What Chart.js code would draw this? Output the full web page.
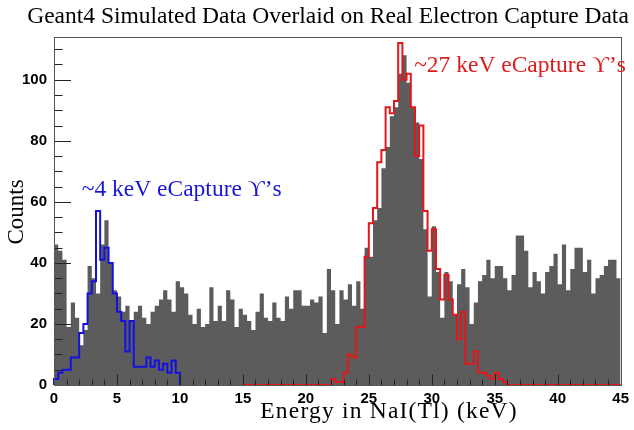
<!DOCTYPE html>
<html>
<head>
<meta charset="utf-8">
<script src="https://cdn.jsdelivr.net/npm/chart.js@4.4.1/dist/chart.umd.min.js"></script>
<style>
  html, body { margin: 0; padding: 0; background: #ffffff; }
  #wrap { width: 634px; height: 430px; }
</style>
</head>
<body>
<div id="wrap"><canvas id="spectrum-chart" width="634" height="430"></canvas></div>
<script>
// ============================================
// Data (counts per 1/3 keV bin)
// ============================================

const binWidth = 1 / 3;

// Real electron capture data, 0 - 45 keV
const realStart = 0;
const realCounts = [
  46, 44, 41, 19, 27, 22, 13, 18, 39, 35, 30, 46, 54, 40, 31, 29, 24, 26, 21, 24,
  26, 22, 20, 24, 26, 28, 31, 28, 24, 34, 32, 30, 23, 20, 25, 19, 20, 32, 21, 26,
  21, 31, 28, 19, 25, 23, 21, 18, 24, 30, 22, 21, 27, 22, 21, 29, 25, 31, 31, 26,
  26, 28, 27, 29, 17, 38, 31, 20, 31, 28, 33, 26, 34, 25, 45, 42, 54, 58, 71, 78,
  88, 91, 102, 108, 99, 91, 86, 74, 51, 29, 52, 37, 22, 37, 34, 23, 33, 38, 32, 20,
  27, 34, 36, 41, 35, 39, 39, 35, 31, 36, 49, 49, 44, 32, 37, 34, 30, 37, 39, 43,
  33, 46, 31, 38, 45, 45, 37, 41, 30, 35, 36, 39, 41, 41, 35
];

// Geant4 simulation, ~4 keV lines, 0 - 10 keV
const lowSimStart = 0;
const lowSimCounts = [
  2, 4, 5, 5, 9, 9, 17, 20, 30, 34, 57, 41, 45, 40, 30,
  24, 21, 11, 21, 6, 6, 6, 9, 6, 8, 5, 7, 4, 8, 4
];

// Geant4 simulation, ~27 keV lines, 15 - 45 keV
const highSimStart = 15;
const highSimCounts = [
  0, 0, 0, 0, 0, 0, 0, 0, 0, 0, 0, 0, 0, 0, 0, 0, 0, 0, 0, 0,
  0, 2, 1, 1, 4, 10, 9, 19, 19, 42, 53, 58, 73, 77, 91, 89, 93, 112, 100, 102,
  91, 75, 85, 57, 44, 51, 38, 28, 36, 28, 23, 15, 24, 7, 7, 11, 4, 4, 3, 2,
  4, 2, 1, 0, 0, 0, 0, 0, 0, 0, 0, 0, 0, 0, 0, 0, 0, 0, 0, 0,
  0, 0, 0, 0, 0, 0, 0, 0, 0, 0
];

// Axis ticks
const xTickValues = [0, 5, 10, 15, 20, 25, 30, 35, 40, 45];
const yTickValues = [0, 20, 40, 60, 80, 100];
const xMinorStep = 1;
const yMinorStep = 5;

// ============================================
// Helpers
// ============================================

// step outline of a histogram, closed down to zero at both ends
function histPoints(start, width, counts) {
  const pts = [{ x: start, y: 0 }];
  counts.forEach((c, i) => pts.push({ x: start + i * width, y: c }));
  const end = start + counts.length * width;
  pts.push({ x: end, y: counts[counts.length - 1] });
  pts.push({ x: end, y: 0 });
  return pts;
}

const serif = '"Liberation Serif", "Times New Roman", serif';
const sans = '"Liberation Sans", Arial, sans-serif';

// ============================================
// ROOT-style frame, inward ticks and texts
// ============================================

const rootFrame = {
  id: 'rootFrame',
  afterDatasetsDraw(chart) {
    const { ctx, chartArea: a, scales } = chart;
    const xs = scales.x, ys = scales.y;
    ctx.save();
    ctx.strokeStyle = '#222';
    ctx.lineWidth = 1;

    // x ticks, pointing up from the bottom axis
    ctx.beginPath();
    for (let v = xs.min; v <= xs.max + 1e-9; v += xMinorStep) {
      const px = Math.round(xs.getPixelForValue(v)) + 0.5;
      const len = xTickValues.includes(v) ? 10.5 : 5.5;
      ctx.moveTo(px, a.bottom);
      ctx.lineTo(px, a.bottom - len);
    }
    // y ticks, pointing right from the left axis
    for (let v = ys.min; v <= ys.max + 1e-9; v += yMinorStep) {
      const py = Math.round(ys.getPixelForValue(v)) + 0.5;
      const len = yTickValues.includes(v) ? 17 : 8.5;
      ctx.moveTo(a.left, py);
      ctx.lineTo(a.left + len, py);
    }
    ctx.stroke();

    // frame
    ctx.strokeStyle = '#555';
    ctx.strokeRect(Math.round(a.left) + 0.5, Math.round(a.top) + 0.5,
      Math.round(a.right - a.left), Math.round(a.bottom - a.top));
    ctx.restore();
  },
  afterDraw(chart) {
    const { ctx, scales } = chart;
    const xs = scales.x, ys = scales.y;
    ctx.save();
    ctx.textBaseline = 'middle';

    // title
    ctx.fillStyle = '#000';
    ctx.font = '23.5px ' + serif;
    ctx.textAlign = 'center';
    ctx.fillText('Geant4 Simulated Data Overlaid on Real Electron Capture Data', 328, 17);

    // x axis title
    ctx.font = '23.5px ' + serif;
    ctx.letterSpacing = '1.2px';
    ctx.fillText('Energy in NaI(Tl) (keV)', 389, 412);
    ctx.letterSpacing = '0px';

    // y axis title
    ctx.font = '23px ' + serif;
    ctx.save();
    ctx.translate(17, 212);
    ctx.rotate(-Math.PI / 2);
    ctx.fillText('Counts', 0, 0);
    ctx.restore();

    // peak labels, placed in data coordinates
    ctx.font = '23.5px ' + serif;
    ctx.textAlign = 'left';
    ctx.fillStyle = '#1717d6';
    ctx.fillText('~4 keV eCapture \u03d2\u2019s', xs.getPixelForValue(2.2), ys.getPixelForValue(64));
    ctx.fillStyle = '#db1c1c';
    ctx.fillText('~27 keV eCapture \u03d2\u2019s', xs.getPixelForValue(28.6), ys.getPixelForValue(104.5));
    ctx.restore();
  }
};

// ============================================
// Chart
// ============================================

const tickFont = { family: sans, weight: 'bold', size: 15 };

new Chart(document.getElementById('spectrum-chart'), {
  type: 'line',
  data: {
    datasets: [
      {
        label: 'Simulated ~27 keV',
        data: histPoints(highSimStart, binWidth, highSimCounts),
        borderColor: '#e3161b',
        borderWidth: 2,
        stepped: true,
        fill: false,
        pointRadius: 0,
        clip: 2
      },
      {
        label: 'Simulated ~4 keV',
        data: histPoints(lowSimStart, binWidth, lowSimCounts),
        borderColor: '#1212e0',
        borderWidth: 2,
        stepped: true,
        fill: false,
        pointRadius: 0,
        clip: 2
      },
      {
        label: 'Real data',
        data: histPoints(realStart, binWidth, realCounts),
        borderColor: '#5c5c5c',
        backgroundColor: '#5c5c5c',
        borderWidth: 0,
        stepped: true,
        fill: 'origin',
        pointRadius: 0
      }
    ]
  },
  options: {
    responsive: false,
    animation: false,
    devicePixelRatio: 1,
    layout: { padding: { top: 37, right: 8, left: 0, bottom: 0 } },
    plugins: {
      legend: { display: false },
      tooltip: { enabled: false },
      title: { display: false }
    },
    scales: {
      x: {
        type: 'linear',
        min: 0,
        max: 45,
        afterBuildTicks: s => { s.ticks = xTickValues.map(v => ({ value: v })); },
        afterFit: s => { s.height = 45; },
        grid: { display: false, drawTicks: false },
        border: { display: false },
        ticks: { font: tickFont, color: '#000', padding: 5, maxRotation: 0, autoSkip: false }
      },
      y: {
        type: 'linear',
        min: 0,
        max: 114,
        afterBuildTicks: s => { s.ticks = yTickValues.map(v => ({ value: v })); },
        afterFit: s => { s.width = 54; },
        grid: { display: false, drawTicks: false },
        border: { display: false },
        ticks: { font: tickFont, color: '#000', padding: 7 }
      }
    }
  },
  plugins: [rootFrame]
});
</script>
</body>
</html>
